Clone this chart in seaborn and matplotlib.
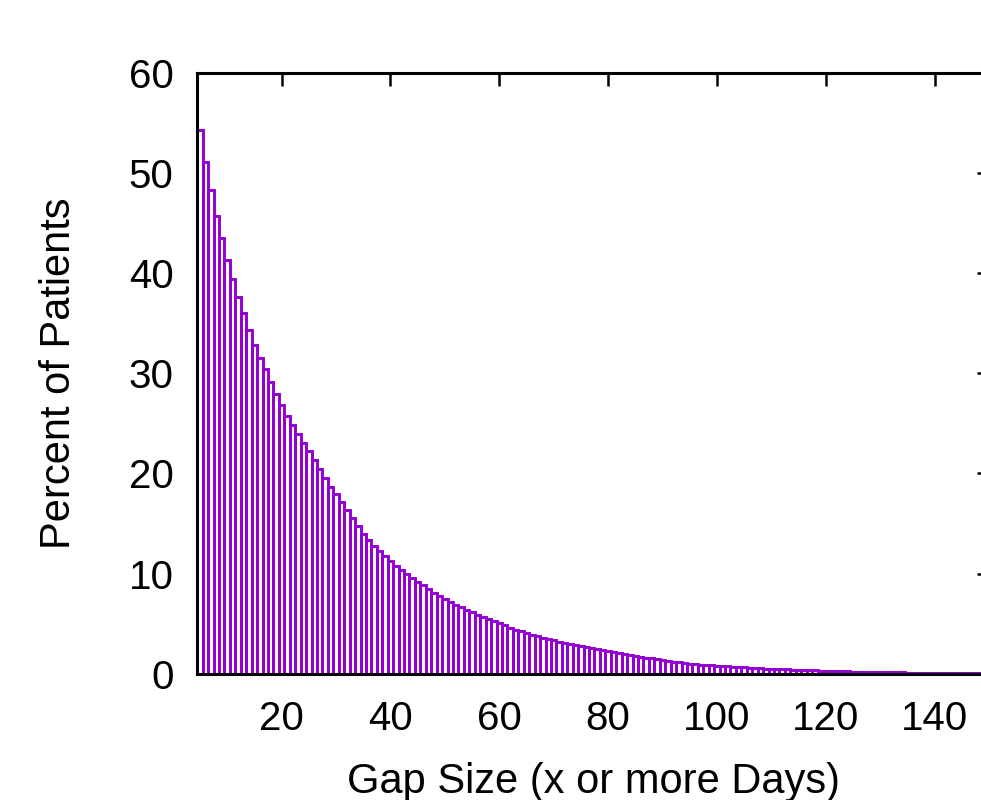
import numpy as np
import pandas as pd
import matplotlib
matplotlib.use("Agg")
import matplotlib.pyplot as plt
import seaborn as sns

# gap size in days (x or more days) and percent of patients
gap_days = list(range(5, 150))

pct_patients = [
    54.29, 51.07, 48.28, 45.74, 43.51, 41.35, 39.40, 37.62, 36.00, 34.33,   # 5-14
    32.83, 31.57, 30.41, 29.17, 27.94, 26.82, 25.78, 24.85, 23.95, 23.08,   # 15-24
    22.23, 21.36, 20.46, 19.59, 18.69, 17.96, 17.17, 16.37, 15.57, 14.70,   # 25-34
    13.97, 13.34, 12.74, 12.27, 11.74, 11.24, 10.77, 10.34, 9.94, 9.54,     # 35-44
    9.14, 8.81, 8.44, 8.07, 7.74, 7.44, 7.14, 6.87, 6.61, 6.34,             # 45-54
    6.11, 5.87, 5.64, 5.44, 5.21, 5.01, 4.81, 4.58, 4.38, 4.21,             # 55-64
    4.05, 3.88, 3.75, 3.58, 3.45, 3.31, 3.18, 3.05, 2.95, 2.81,             # 65-74
    2.71, 2.61, 2.51, 2.41, 2.31, 2.21, 2.11, 2.01, 1.95, 1.85,             # 75-84
    1.75, 1.68, 1.58, 1.51, 1.45, 1.35, 1.28, 1.18, 1.12, 1.06,             # 85-94
    1.00, 0.95, 0.90, 0.86, 0.82, 0.78, 0.74, 0.71, 0.68, 0.65,             # 95-104
    0.62, 0.59, 0.56, 0.53, 0.50, 0.48, 0.45, 0.43, 0.41, 0.39,             # 105-114
    0.37, 0.35, 0.33, 0.31, 0.29, 0.27, 0.25, 0.24, 0.22, 0.21,             # 115-124
    0.20, 0.19, 0.18, 0.17, 0.16, 0.15, 0.14, 0.13, 0.12, 0.11,             # 125-134
    0.10, 0.10, 0.09, 0.09, 0.08, 0.08, 0.07, 0.07, 0.06, 0.06,             # 135-144
    0.05, 0.05, 0.05, 0.04, 0.04,                                           # 145-149
]

x_ticks = [20, 40, 60, 80, 100, 120, 140]
y_ticks = [0, 10, 20, 30, 40, 50, 60]

df = pd.DataFrame({"gap": gap_days, "pct": pct_patients})

sns.set_style("white")
plt.rcParams["font.family"] = ["Liberation Sans", "DejaVu Sans"]
plt.rcParams["text.color"] = "black"
plt.rcParams["axes.labelcolor"] = "black"
plt.rcParams["xtick.color"] = "black"
plt.rcParams["ytick.color"] = "black"

fig = plt.figure(figsize=(9.81, 8), dpi=100)
ax = fig.add_axes([0.2011, 0.158, 0.807, 0.7506])

sns.histplot(data=df, x="gap", weights="pct", discrete=True, fill=False,
             color="#9400D3", linewidth=2.1, ax=ax)

ax.set_xlim(4.5, 150)
ax.set_ylim(0, 60)
ax.set_xticks(x_ticks)
ax.set_yticks(y_ticks)

for s in ax.spines.values():
    s.set_visible(True)
    s.set_color("black")
    s.set_linewidth(2.2)

ax.tick_params(axis="both", which="both", direction="in", length=9, width=1.8,
               color="black", labelcolor="black", labelsize=29, top=True, right=True,
               labeltop=False, labelright=False)
ax.tick_params(axis="y", pad=17)
ax.tick_params(axis="x", pad=19)

ax.set_xlabel("Gap Size (x or more Days)", fontsize=30, labelpad=17)
ax.set_ylabel("Percent of Patients", fontsize=30, labelpad=36)

fig.savefig("out.png", dpi=100)
